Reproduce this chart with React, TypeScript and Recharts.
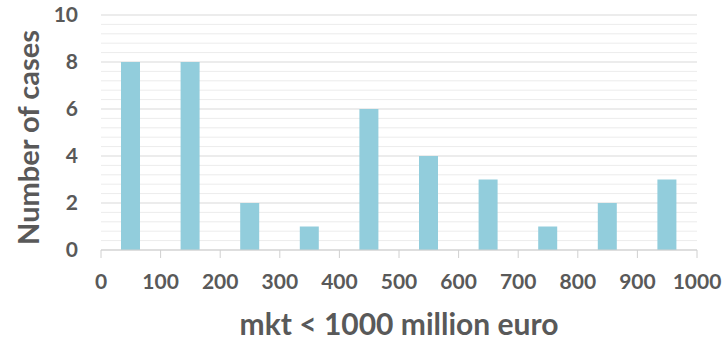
import { BarChart, Bar, XAxis, YAxis, CartesianGrid } from 'recharts';

// bin centres (million euro) and number of cases in each bin
const binCentres = [50, 150, 250, 350, 450, 550, 650, 750, 850, 950];
const cases = [8, 8, 2, 1, 6, 4, 3, 1, 2, 3];

const xTicks = [0, 100, 200, 300, 400, 500, 600, 700, 800, 900, 1000];
const yTicks = [0, 2, 4, 6, 8, 10];
const yMinorTicks = [
  0.4, 0.8, 1.2, 1.6, 2.4, 2.8, 3.2, 3.6, 4.4, 4.8, 5.2, 5.6,
  6.4, 6.8, 7.2, 7.6, 8.4, 8.8, 9.2, 9.6,
];
const Y_MAX = 10;

const data = binCentres.map((bin, i) => ({ bin, cases: cases[i] }));

const FONT = 'Lato, "Open Sans", sans-serif';
const GREY = '#595959';

const YTitle = (props: any) => {
  const { viewBox } = props;
  const cx = 27;
  const cy = viewBox.y + viewBox.height / 2 + 5;
  return (
    <text
      x={cx}
      y={cy}
      transform={`rotate(-90, ${cx}, ${cy})`}
      textAnchor="middle"
      dominantBaseline="central"
      fill={GREY}
      fontSize={29}
      fontWeight="bold"
      fontFamily={FONT}
    >
      Number of cases
    </text>
  );
};

const XTitle = (props: any) => {
  const { viewBox } = props;
  return (
    <text
      x={viewBox.x + viewBox.width / 2}
      y={335}
      textAnchor="middle"
      fill={GREY}
      fontSize={30}
      fontWeight="bold"
      fontFamily={FONT}
    >
      mkt &lt; 1000 million euro
    </text>
  );
};

export default function App() {
  return (
    <div style={{ position: 'absolute', left: 0, top: 0, width: 728, height: 341, background: '#fff' }}>
      <BarChart
        width={728}
        height={341}
        data={data}
        margin={{ top: 15, right: 31, left: 0, bottom: 0 }}
      >
        {/* light minor lines every 0.4 */}
        <CartesianGrid
          vertical={false}
          stroke="#ECECEC"
          horizontalCoordinatesGenerator={({ offset }: any) =>
            yMinorTicks.map((t) => offset.top + offset.height * (1 - t / Y_MAX))
          }
        />
        <CartesianGrid vertical={false} stroke="#D9D9D9" syncWithTicks />
        <XAxis
          dataKey="bin"
          type="number"
          domain={[0, 1000]}
          ticks={xTicks}
          interval={0}
          height={91}
          stroke="#D0D0D0"
          tickSize={8}
          tickMargin={16}
          tick={{ fill: GREY, fontSize: 21, fontWeight: 'bold', fontFamily: FONT }}
          label={<XTitle />}
        />
        <YAxis
          domain={[0, Y_MAX]}
          ticks={yTicks}
          interval={0}
          width={101}
          axisLine={false}
          tickLine={false}
          tickSize={0}
          tickMargin={23}
          tick={{ fill: GREY, fontSize: 21, fontWeight: 'bold', fontFamily: FONT }}
          label={<YTitle />}
        />
        <Bar
          dataKey="cases"
          fill="#92CDDC"
          barSize={19}
          isAnimationActive={false}
        />
      </BarChart>
    </div>
  );
}
